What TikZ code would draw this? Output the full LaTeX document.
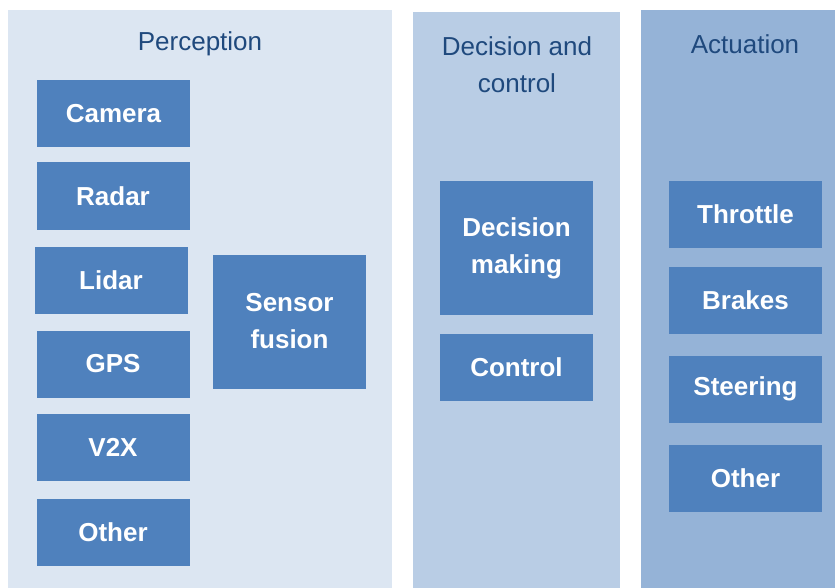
\documentclass[tikz,border=0pt]{standalone}
\usepackage{fontspec}
\setmainfont{Liberation Sans}
\definecolor{percbg}{RGB}{220,230,242}
\definecolor{decbg}{RGB}{185,205,229}
\definecolor{actbg}{RGB}{149,179,215}
\definecolor{boxblue}{RGB}{79,129,189}
\definecolor{titleblue}{RGB}{31,73,125}
\tikzset{every picture/.style={line width=0.75pt}}
\tikzset{
  blockbox/.style={fill=boxblue, draw=none, text=white, inner sep=0.75pt, align=center,
    minimum width=114.75pt, minimum height=50.25pt, font=\fontsize{19.5}{27.75}\selectfont\bfseries},
  tallbox/.style={blockbox, minimum height=100.5pt},
  paneltitle/.style={text=titleblue, inner sep=0.75pt, align=center, font=\fontsize{19.5}{27.75}\selectfont}
}
\begin{document}
\begin{tikzpicture}[x=0.75pt,y=0.75pt,yscale=-1,xscale=1]
	\useasboundingbox (0,0) rectangle (835,588);
	
	%Shape: Rectangle [id:perception panel] 
	\fill [color=percbg] (8,10) rectangle (392,588) ;
	%Shape: Rectangle [id:decision panel] 
	\fill [color=decbg] (413,12) rectangle (620,588) ;
	%Shape: Rectangle [id:actuation panel] 
	\fill [color=actbg] (641,10) rectangle (835,588) ;
	
	% Text Node
	\draw (200,44) node [paneltitle] (perctitle) {Perception};
	% Text Node
	\draw (517,64.5) node [paneltitle] (dectitle) {Decision and\\control};
	% Text Node
	\draw (745,44) node [paneltitle] (acttitle) {Actuation};
	
	% Sensor Nodes
	\draw (113.5,113.5) node [blockbox] (camera) {Camera};
	\draw (113,196) node [blockbox] (radar) {Radar};
	\draw (111,280) node [blockbox] (lidar) {Lidar};
	\draw (113,364) node [blockbox] (gps) {GPS};
	\draw (113,447) node [blockbox] (vtwox) {V2X};
	\draw (113,532) node [blockbox] (othersensor) {Other};
	% Fusion Node
	\draw (289.5,321.5) node [tallbox] (fusion) {Sensor\\fusion};
	
	% Decision Nodes
	\draw (516.5,248) node [tallbox] (decision) {Decision\\making};
	\draw (516.5,367) node [blockbox] (control) {Control};
	
	% Actuator Nodes
	\draw (745.5,214.5) node [blockbox] (throttle) {Throttle};
	\draw (745.5,300) node [blockbox] (brakes) {Brakes};
	\draw (745.5,389) node [blockbox] (steering) {Steering};
	\draw (745.5,478.5) node [blockbox] (otheractuator) {Other};
	
\end{tikzpicture}
\end{document}
